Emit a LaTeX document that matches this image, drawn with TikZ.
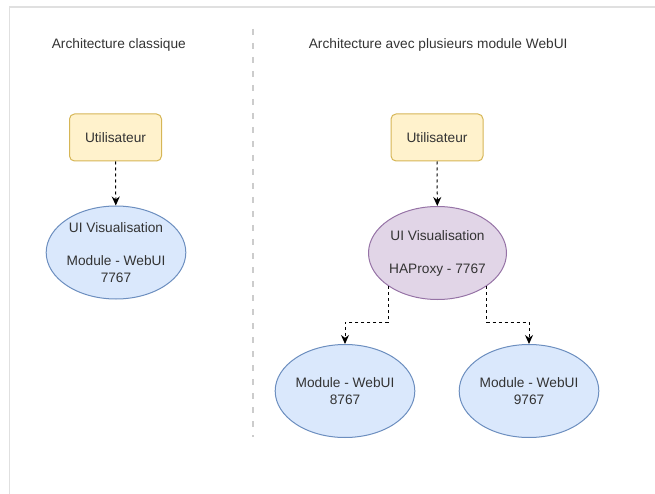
\documentclass[tikz,border=0pt]{standalone}
\usepackage{fontspec}
\setmainfont{Liberation Sans}
\usetikzlibrary{shapes.geometric,arrows.meta}
\definecolor{txt}{HTML}{333333}
\definecolor{yellowfill}{HTML}{FFF2CC}
\definecolor{yellowline}{HTML}{D6B656}
\definecolor{bluefill}{HTML}{DAE8FC}
\definecolor{blueline}{HTML}{6C8EBF}
\definecolor{purplefill}{HTML}{E1D5E7}
\definecolor{purpleline}{HTML}{9673A6}
\begin{document}
\begin{tikzpicture}[x=1pt,y=-1pt, line width=1pt,
  every node/.style={font=\fontsize{13.7}{16.5}\selectfont, text=txt},
  userbox/.style={draw=yellowline, fill=yellowfill, rounded corners=5pt, minimum width=92pt, minimum height=47pt, inner sep=0pt},
  blueoval/.style={ellipse, draw=blueline, fill=bluefill, minimum width=138pt, minimum height=93pt, inner sep=0pt, align=center},
  purpleoval/.style={blueoval, draw=purpleline, fill=purplefill},
  link/.style={draw=black, dash pattern=on 3pt off 3pt, -{Stealth[length=9pt,width=8pt]}}]
\useasboundingbox (0,0) rectangle (655,494);
\draw [black!12, line width=1.5pt] (655,7) -- (9.5,7) -- (9.5,494);
\draw [black!20, line width=2pt, dash pattern=on 6pt off 8pt] (253,29) -- (253,437);
% left side
\node (title1) at (48,45) [anchor = west]{Architecture classique};
\node (user1) at (115.5,137.5) [userbox]{Utilisateur};
\node (webui1) at (116,252.5) [blueoval]{UI Visualisation\\[16.5pt]Module - WebUI\\7767};
\draw [link] (user1) -- (webui1);
% right side
\node (title2) at (305,45) [anchor = west]{Architecture avec plusieurs module WebUI};
\node (user2) at (437,137.5) [userbox]{Utilisateur};
\node (haproxy) at (437.5,253) [purpleoval]{UI Visualisation\\[16.5pt]HAProxy - 7767};
\node (webui2) at (345,391) [blueoval]{Module - WebUI\\8767};
\node (webui3) at (529,391) [blueoval]{Module - WebUI\\9767};
\draw [link] (user2) -- (haproxy);
\draw [link] (haproxy.south west) -- ++(0,36) -| (webui2.north);
\draw [link] (haproxy.south east) -- ++(0,36) -| (webui3.north);
\end{tikzpicture}
\end{document}
